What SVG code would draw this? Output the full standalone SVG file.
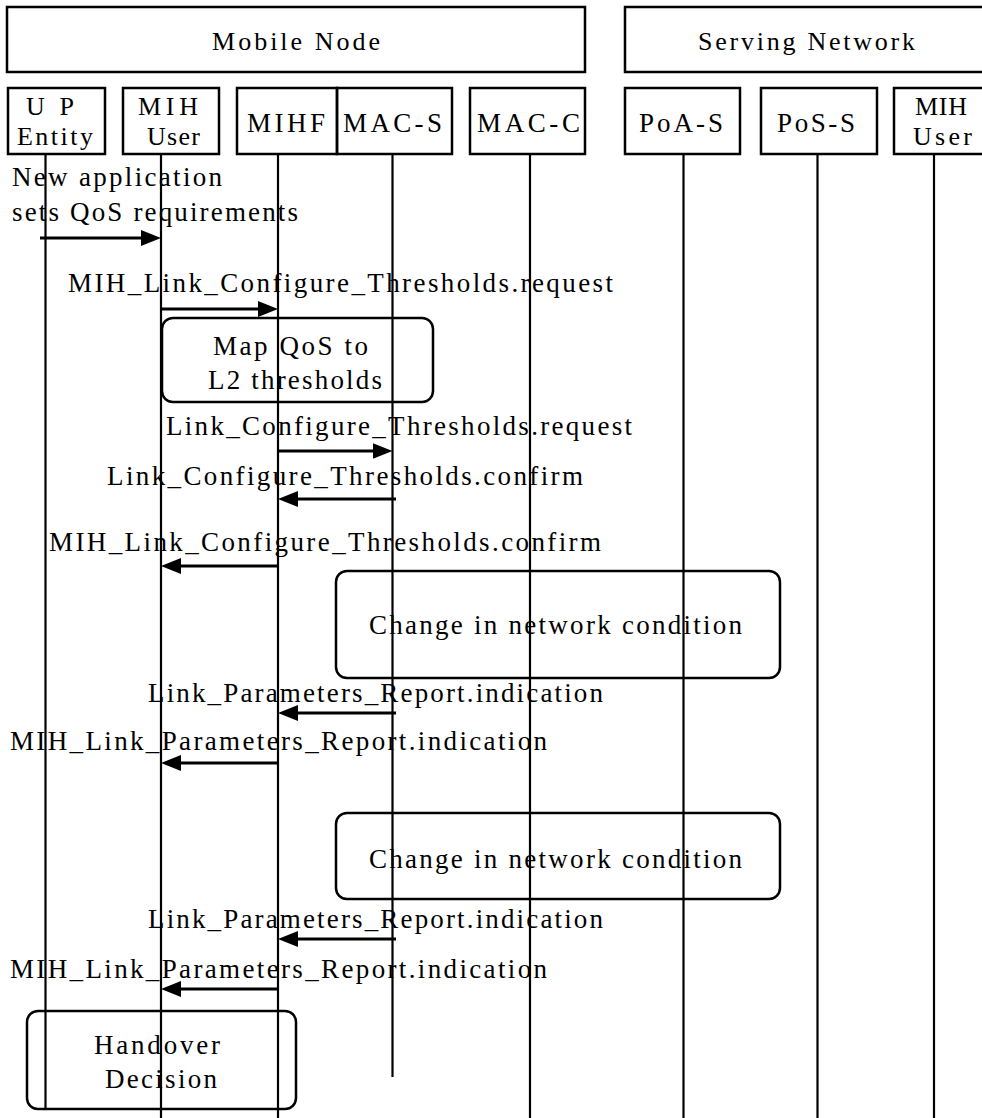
<svg xmlns="http://www.w3.org/2000/svg" width="982" height="1118" viewBox="0 0 982 1118">
  <style>
    text { font-family: "Liberation Serif", "Times New Roman", serif; fill: #000; }
    .hdr { font-size: 26px; }
    .lbl { font-size: 27px; }
    .box { fill: none; stroke: #000; stroke-width: 2.5; }
    .note { fill: none; stroke: #000; stroke-width: 2.5; }
    .life { stroke: #000; stroke-width: 2.2; fill: none; }
    .msg { stroke: #000; stroke-width: 3; fill: none; marker-end: url(#head); }
  </style>
  <defs>
    <marker id="head" markerUnits="userSpaceOnUse" viewBox="0 0 20 16" markerWidth="20" markerHeight="16" refX="10" refY="8" orient="auto">
      <path d="M0,0 L20,8 L0,16 Z" fill="#000"/>
    </marker>
  </defs>
  <rect width="982" height="1118" fill="#fff"/>

  <!-- entity groups -->
  <g id="mobile-node">
    <rect class="box" x="7" y="7" width="578" height="65"/>
    <text class="hdr" x="212" y="50" textLength="168" lengthAdjust="spacing">Mobile Node</text>
  </g>
  <g id="serving-network">
    <rect class="box" x="625" y="7" width="380" height="65"/>
    <text class="hdr" x="698" y="50" textLength="217" lengthAdjust="spacing">Serving Network</text>
  </g>

  <!-- participants with lifelines -->
  <g id="up-entity">
    <rect class="box" x="8" y="88" width="97" height="66"/>
    <text class="hdr" x="26" y="115" textLength="48" lengthAdjust="spacing">UP</text>
    <text class="hdr" x="17" y="145" textLength="76" lengthAdjust="spacing">Entity</text>
    <line class="life" x1="45.5" y1="154" x2="45.5" y2="1109"/>
  </g>
  <g id="mih-user">
    <rect class="box" x="123" y="88" width="96" height="66"/>
    <text class="hdr" x="138" y="115" textLength="60" lengthAdjust="spacing">MIH</text>
    <text class="hdr" x="147" y="145" textLength="53" lengthAdjust="spacing">User</text>
    <line class="life" x1="161" y1="154" x2="161" y2="1118"/>
  </g>
  <g id="mihf">
    <rect class="box" x="237" y="88" width="100" height="66"/>
    <text class="lbl" x="247" y="132" textLength="78" lengthAdjust="spacing">MIHF</text>
    <line class="life" x1="278" y1="154" x2="278" y2="1118"/>
  </g>
  <g id="mac-s">
    <rect class="box" x="337" y="88" width="115" height="66"/>
    <text class="lbl" x="343" y="132" textLength="99" lengthAdjust="spacing">MAC-S</text>
    <line class="life" x1="392.5" y1="154" x2="392.5" y2="1077"/>
  </g>
  <g id="mac-c">
    <rect class="box" x="470" y="88" width="115" height="66"/>
    <text class="lbl" x="477" y="132" textLength="103" lengthAdjust="spacing">MAC-C</text>
    <line class="life" x1="530" y1="154" x2="530" y2="1118"/>
  </g>
  <g id="poa-s">
    <rect class="box" x="625" y="88" width="115" height="66"/>
    <text class="lbl" x="639" y="132" textLength="84" lengthAdjust="spacing">PoA-S</text>
    <line class="life" x1="683.5" y1="154" x2="683.5" y2="1118"/>
  </g>
  <g id="pos-s">
    <rect class="box" x="761" y="88" width="116" height="66"/>
    <text class="lbl" x="777" y="132" textLength="78" lengthAdjust="spacing">PoS-S</text>
    <line class="life" x1="817.5" y1="154" x2="817.5" y2="1118"/>
  </g>
  <g id="mih-user-sn">
    <rect class="box" x="894" y="88" width="110" height="66"/>
    <text class="hdr" x="915" y="115" textLength="52" lengthAdjust="spacing">MIH</text>
    <text class="hdr" x="913" y="145" textLength="59" lengthAdjust="spacing">User</text>
    <line class="life" x1="934" y1="154" x2="934" y2="1118"/>
  </g>

  <!-- local actions -->
  <g id="map-qos">
    <rect class="note" x="162" y="318" width="271" height="84" rx="11" ry="11"/>
    <text class="lbl" x="213" y="355" textLength="155" lengthAdjust="spacing">Map QoS to</text>
    <text class="lbl" x="208" y="389" textLength="174" lengthAdjust="spacing">L2 thresholds</text>
  </g>
  <g id="change-1">
    <rect class="note" x="336" y="571" width="444" height="107" rx="11" ry="11"/>
    <text class="lbl" x="369" y="634" textLength="373" lengthAdjust="spacing">Change in network condition</text>
  </g>
  <g id="change-2">
    <rect class="note" x="336" y="813" width="444" height="86" rx="11" ry="11"/>
    <text class="lbl" x="369" y="868" textLength="373" lengthAdjust="spacing">Change in network condition</text>
  </g>
  <g id="handover-decision">
    <rect class="note" x="27" y="1011" width="269" height="98" rx="11" ry="11"/>
    <text class="lbl" x="94" y="1054" textLength="126" lengthAdjust="spacing">Handover</text>
    <text class="lbl" x="105" y="1088" textLength="112" lengthAdjust="spacing">Decision</text>
  </g>

  <!-- messages -->
  <g id="connectors">
    <text class="lbl" x="12" y="186" textLength="210" lengthAdjust="spacing">New application</text>
    <text class="lbl" x="12" y="221" textLength="286" lengthAdjust="spacing">sets QoS requirements</text>
    <path class="msg" d="M40,238 H151"/>

    <text class="lbl" x="68" y="292" textLength="545" lengthAdjust="spacing">MIH_Link_Configure_Thresholds.request</text>
    <path class="msg" d="M161,309 H268"/>

    <text class="lbl" x="166" y="435" textLength="466" lengthAdjust="spacing">Link_Configure_Thresholds.request</text>
    <path class="msg" d="M278,451 H382.5"/>

    <text class="lbl" x="107" y="485" textLength="476" lengthAdjust="spacing">Link_Configure_Thresholds.confirm</text>
    <path class="msg" d="M396,499 H288"/>

    <text class="lbl" x="49" y="551" textLength="552" lengthAdjust="spacing">MIH_Link_Configure_Thresholds.confirm</text>
    <path class="msg" d="M278,566 H171"/>

    <text class="lbl" x="148" y="702" textLength="455" lengthAdjust="spacing">Link_Parameters_Report.indication</text>
    <path class="msg" d="M396,713 H288"/>

    <text class="lbl" x="10" y="750" textLength="537" lengthAdjust="spacing">MIH_Link_Parameters_Report.indication</text>
    <path class="msg" d="M278,763 H171"/>

    <text class="lbl" x="148" y="928" textLength="455" lengthAdjust="spacing">Link_Parameters_Report.indication</text>
    <path class="msg" d="M396,939 H288"/>

    <text class="lbl" x="10" y="978" textLength="537" lengthAdjust="spacing">MIH_Link_Parameters_Report.indication</text>
    <path class="msg" d="M278,989 H171"/>
  </g>
</svg>
